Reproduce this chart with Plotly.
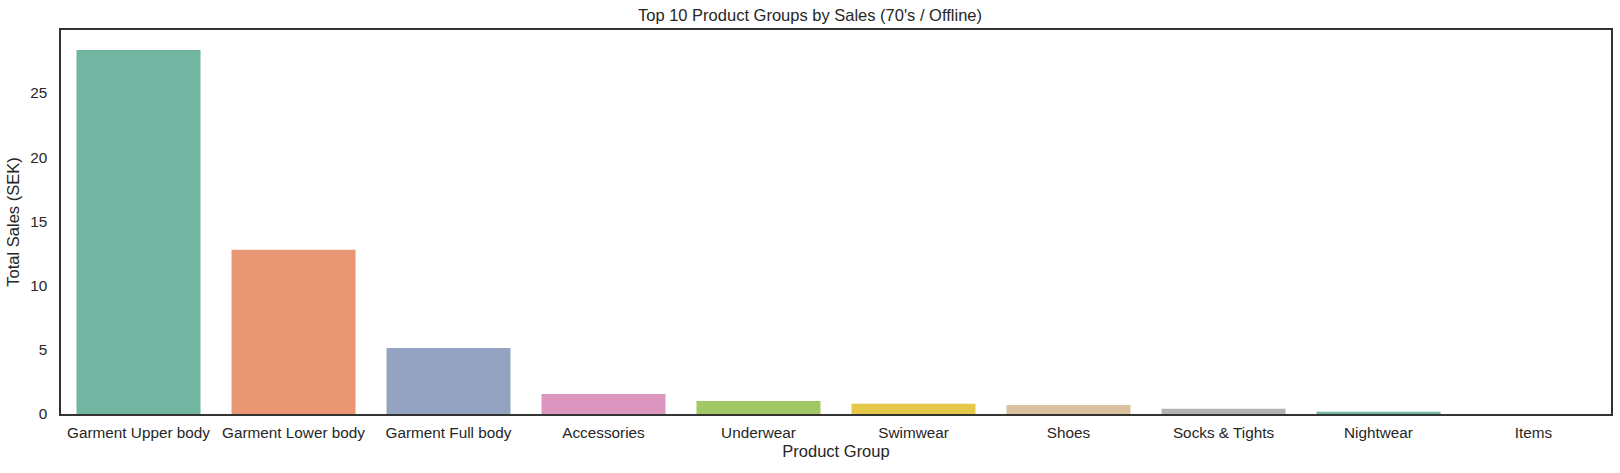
import colorsys
import plotly.graph_objects as go

categories = ["Garment Upper body", "Garment Lower body", "Garment Full body", "Accessories",
              "Underwear", "Swimwear", "Shoes", "Socks & Tights", "Nightwear", "Items"]
sales = [28.35, 12.8, 5.15, 1.55, 1.02, 0.8, 0.7, 0.4, 0.17, 0.0]
y_ticks = [0, 5, 10, 15, 20, 25]
palette = ["#66c2a5", "#fc8d62", "#8da0cb", "#e78ac3", "#a6d854",
           "#ffd92f", "#e5c494", "#b3b3b3", "#66c2a5", "#fc8d62"]


def desat(hex_color, prop=0.75):
    r, g, b = (int(hex_color[i:i + 2], 16) / 255 for i in (1, 3, 5))
    h, l, s = colorsys.rgb_to_hls(r, g, b)
    r, g, b = colorsys.hls_to_rgb(h, l, s * prop)
    return "rgb(%d,%d,%d)" % (round(r * 255), round(g * 255), round(b * 255))


colors = [desat(c) for c in palette]

FONT = "Liberation Sans, Arial, sans-serif"
TXT = "#262626"

fig = go.Figure(go.Bar(
    x=categories, y=sales, marker_color=colors, marker_line_width=0, width=0.8,
))

ymax = max(sales) * 1.055

fig.update_layout(
    width=1620, height=473,
    margin=dict(l=61, r=9, t=30, b=59),
    paper_bgcolor="white", plot_bgcolor="white",
    font=dict(family=FONT, color=TXT, size=15.3),
    showlegend=False,
    title=dict(text="Top 10 Product Groups by Sales (70's / Offline)", x=0.5, xanchor="center",
               y=1 - 15 / 473, yanchor="middle", font=dict(size=16.5, color=TXT)),
)
fig.update_xaxes(
    range=[-0.5, len(categories) - 0.5], showline=True, linecolor="#333333", linewidth=1.5,
    mirror=True, ticks="outside", ticklen=4, tickcolor="rgba(0,0,0,0)", showgrid=False,
    tickfont=dict(size=15.3, color=TXT), automargin=False,
    title=dict(text="Product Group", font=dict(size=16.5, color=TXT), standoff=5),
)
fig.update_yaxes(
    range=[0, ymax], showline=True, linecolor="#333333", linewidth=1.5, mirror=True,
    ticks="outside", ticklen=9, tickcolor="rgba(0,0,0,0)", showgrid=False, zeroline=False,
    tickvals=y_ticks, tickfont=dict(size=15.3, color=TXT), automargin=False,
    title=dict(text="Total Sales (SEK)", font=dict(size=16.5, color=TXT), standoff=6),
)

fig.write_html(
    "out.html",
    config={"displayModeBar": False},
    post_script="document.body.style.margin='0';document.body.style.overflow='hidden';",
)
